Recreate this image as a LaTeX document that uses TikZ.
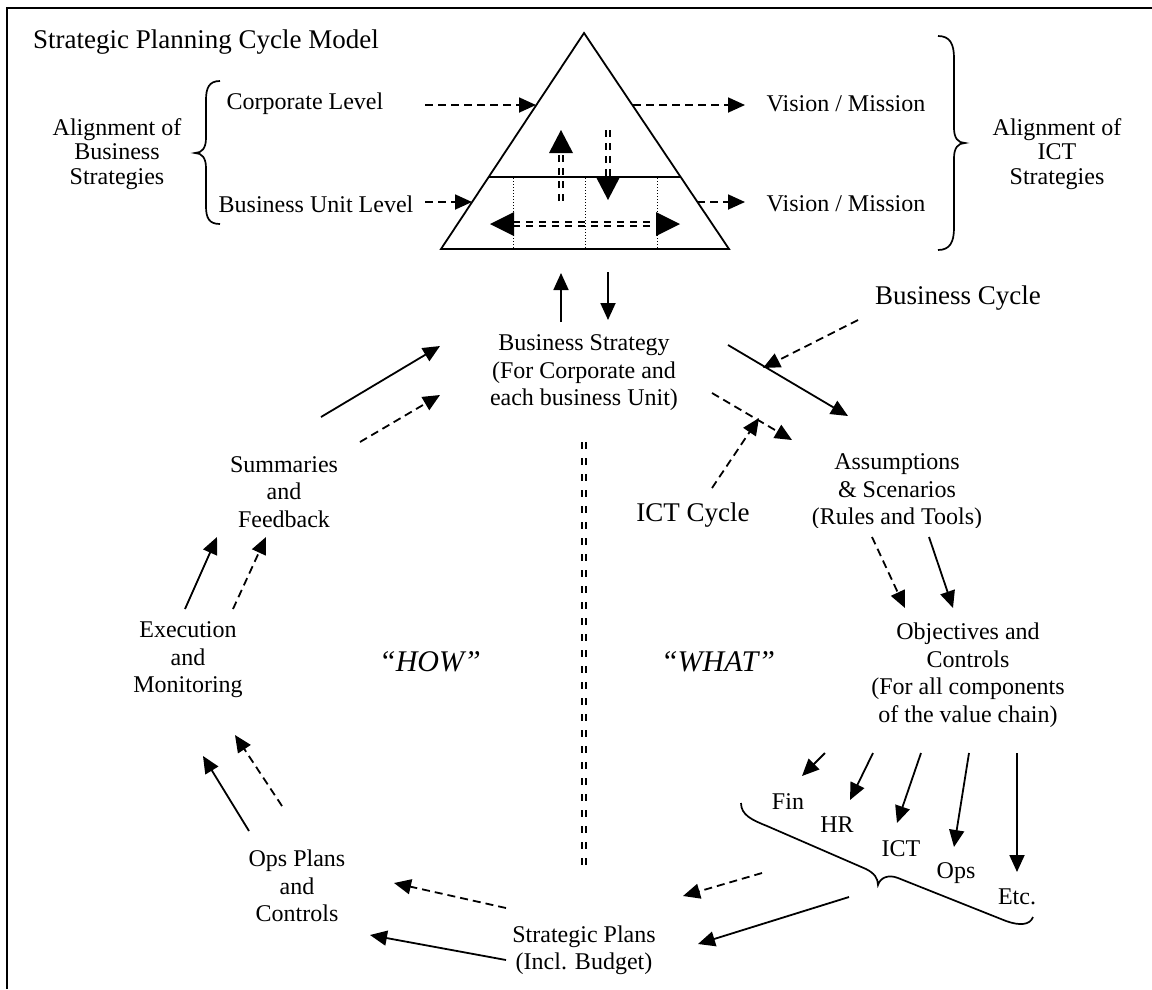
\documentclass[tikz,border=0pt]{standalone}
\usepackage{fontspec}
\setmainfont{Liberation Serif}
\usetikzlibrary{arrows.meta}
\begin{document}
\begin{tikzpicture}[x=1pt,y=-1pt,
  txt/.style={inner sep=0pt, align=center, font=\fontsize{24}{27.5}\selectfont},
  txtb/.style={inner sep=0pt, align=center, font=\fontsize{24}{24.5}\selectfont},
  big/.style={inner sep=0pt, align=center, font=\fontsize{27}{31}\selectfont},
  quot/.style={inner sep=0pt, font=\fontsize{30}{34}\selectfont\itshape},
  arr/.style={line width=1.8pt, -{Triangle[length=17pt,width=15pt]}},
  darr/.style={arr, dash pattern=on 8pt off 5pt},
  edge/.style={line width=1.8pt, line join=miter},
  dots/.style={line width=1pt, dash pattern=on 1.2pt off 1.8pt},
  dbl/.style={line width=2.2pt, double distance=2.4pt, dash pattern=on 7pt off 6pt},
  brace/.style={line width=1.7pt}
]
\useasboundingbox (0,0) rectangle (1152,989);
% frame
\draw[line width=2pt] (7,989) -- (7,8) -- (1152,8);

% title
\node[big, anchor=base west] (title) at (33,48) {Strategic Planning Cycle Model};

% pyramid
\coordinate (apex) at (584,33);
\coordinate (bl) at (441,249);
\coordinate (brr) at (729,249);
\coordinate (ml) at (489,177);
\coordinate (mr) at (680,177);
\draw[edge] (apex) -- (bl) -- (brr) -- cycle;
\draw[edge] (ml) -- (mr);
\foreach \x in {513,585,657} \draw[dots] (\x,178) -- (\x,248);

% double dashed arrows in pyramid
\coordinate (upT) at (561,130); \coordinate (upB) at (561,201);
\draw[dbl] (upB) -- (561,153);
\fill (upT) -- (549,153) -- (573,153) -- cycle;
\coordinate (dnT) at (608,130); \coordinate (dnB) at (608,200);
\draw[dbl] (dnT) -- (608,177);
\fill (dnB) -- (596,177) -- (620,177) -- cycle;
\coordinate (hL) at (490,224); \coordinate (hR) at (680,224);
\draw[dbl] (513,224) -- (657,224);
\fill (hL) -- (514,212) -- (514,236) -- cycle;
\fill (hR) -- (656,212) -- (656,236) -- cycle;

% left alignment
\node[txtb] (alb) at (117,154) {Alignment of\\Business\\Strategies};
\draw[brace] (220,81) .. controls (209,81) and (206,88) .. (206,100) -- (206,138)
  .. controls (206,148) and (202,153) .. (195,153)
  .. controls (202,153) and (206,158) .. (206,168) -- (206,206)
  .. controls (206,218) and (209,224) .. (220,224);
\node[txt] (corp) at (305,104) {Corporate Level};
\node[txt] (bul) at (316,204) {Business Unit Level};

% right alignment
\node[txtb] (ali) at (1057,154) {Alignment of\\ICT\\Strategies};
\draw[brace] (938,36) .. controls (950,36) and (954,44) .. (954,58) -- (954,128)
  .. controls (954,138) and (958,143) .. (965,143)
  .. controls (958,143) and (954,148) .. (954,158) -- (954,228)
  .. controls (954,242) and (950,250) .. (938,250);
\node[txt] (vm1) at (846,104) {Vision / Mission};
\node[txt] (vm2) at (846,204) {Vision / Mission};

\coordinate (c1a) at (425,105); \coordinate (c1b) at (536,105);
\coordinate (c2a) at (633,105); \coordinate (c2b) at (745,105);
\coordinate (b1a) at (425,202); \coordinate (b1b) at (472,202);
\coordinate (b2a) at (697,202); \coordinate (b2b) at (745,202);
\draw[darr] (c1a) -- (c1b);
\draw[darr] (c2a) -- (c2b);
\draw[darr] (b1a) -- (b1b);
\draw[darr] (b2a) -- (b2b);

% business strategy
\node[txt] (bs) at (584,373) {Business Strategy\\(For Corporate and\\each business Unit)};
\coordinate (u1) at (561,322); \coordinate (u2) at (561,273);
\coordinate (d1) at (608,272); \coordinate (d2) at (608,320);
\draw[arr] (u1) -- (u2);
\draw[arr] (d1) -- (d2);

% left side
\node[txt] (sum) at (284,492) {Summaries\\and\\Feedback};
\node[txt] (exe) at (188,660) {Execution\\and\\Monitoring};
\node[txt] (ops) at (297,886) {Ops Plans\\and\\Controls};
\node[txt] (sp) at (584,950) {Strategic Plans\\(Incl. Budget)};
\node[quot] (how) at (430,662) {\textquotedblleft HOW\textquotedblright};
\node[quot] (what) at (718,662) {\textquotedblleft WHAT\textquotedblright};

\coordinate (s1a) at (321,417); \coordinate (s1b) at (440,346);
\coordinate (s2a) at (360,442); \coordinate (s2b) at (440,395);
\draw[arr] (s1a) -- (s1b);
\draw[darr] (s2a) -- (s2b);
\coordinate (e1a) at (185,609); \coordinate (e1b) at (217,537);
\coordinate (e2a) at (233,609); \coordinate (e2b) at (266,537);
\draw[arr] (e1a) -- (e1b);
\draw[darr] (e2a) -- (e2b);
\coordinate (o1a) at (249,831); \coordinate (o1b) at (203,756);
\coordinate (o2a) at (282,806); \coordinate (o2b) at (235,735);
\draw[arr] (o1a) -- (o1b);
\draw[darr] (o2a) -- (o2b);
\coordinate (p1a) at (506,960); \coordinate (p1b) at (370,935);
\coordinate (p2a) at (506,908); \coordinate (p2b) at (394,883);
\draw[arr] (p1a) -- (p1b);
\draw[darr] (p2a) -- (p2b);

% central divider
\coordinate (vt) at (584,442); \coordinate (vb) at (584,873);
\draw[line width=2.2pt, double distance=2.4pt, dash pattern=on 7pt off 9pt] (vt) -- (vb);

% right side
\node[big] (bc) at (958,298) {Business Cycle};
\node[big] (ict) at (693,515) {ICT Cycle};
\begin{scope}
\clip (700,440) rectangle (1100,527);
\node[txt] (as) at (897,492) {Assumptions\\\& Scenarios\\(Rules and Tools)};
\end{scope}
\node[txt] (obj) at (968,675) {Objectives and\\Controls\\(For all components\\of the value chain)};

\coordinate (a1a) at (728,345); \coordinate (a1b) at (848,416);
\coordinate (a2a) at (712,393); \coordinate (a2b) at (792,440);
\draw[arr] (a1a) -- (a1b);
\draw[darr] (a2a) -- (a2b);
\coordinate (bca) at (858,320); \coordinate (bcb) at (763,368);
\draw[darr] (bca) -- (bcb);
\coordinate (ica) at (712,488); \coordinate (icb) at (759,418);
\draw[darr] (ica) -- (icb);
\coordinate (q1a) at (872,537); \coordinate (q1b) at (905,608);
\coordinate (q2a) at (929,537); \coordinate (q2b) at (953,608);
\draw[darr] (q1a) -- (q1b);
\draw[arr] (q2a) -- (q2b);

% value chain components
\node[txt] (fin) at (788,802) {Fin};
\node[txt] (hr) at (837,825) {HR};
\node[txt] (ictc) at (901,849) {ICT};
\node[txt] (opsc) at (956,873) {Ops};
\node[txt] (etc) at (1017,897) {Etc.};
\coordinate (f0) at (825,753); \coordinate (f1) at (802,776);
\coordinate (h0) at (873,753); \coordinate (h1) at (850,800);
\coordinate (i0) at (921,753); \coordinate (i1) at (897,823);
\coordinate (k0) at (969,753); \coordinate (k1) at (954,847);
\coordinate (t0) at (1017,753); \coordinate (t1) at (1017,872);
\draw[arr] (f0) -- (f1);
\draw[arr] (h0) -- (h1);
\draw[arr] (i0) -- (i1);
\draw[arr] (k0) -- (k1);
\draw[arr] (t0) -- (t1);
\draw[brace] (741,803) .. controls (741,815) and (752,820) .. (767,826) -- (866,869)
  .. controls (874,873) and (878,878) .. (878,885)
  .. controls (880,878) and (888,874) .. (898,878) -- (1006,921)
  .. controls (1020,926) and (1030,925) .. (1033,917);
\coordinate (g1a) at (762,873); \coordinate (g1b) at (683,896);
\coordinate (g2a) at (849,897); \coordinate (g2b) at (698,944);
\draw[darr] (g1a) -- (g1b);
\draw[arr] (g2a) -- (g2b);
\end{tikzpicture}
\end{document}
